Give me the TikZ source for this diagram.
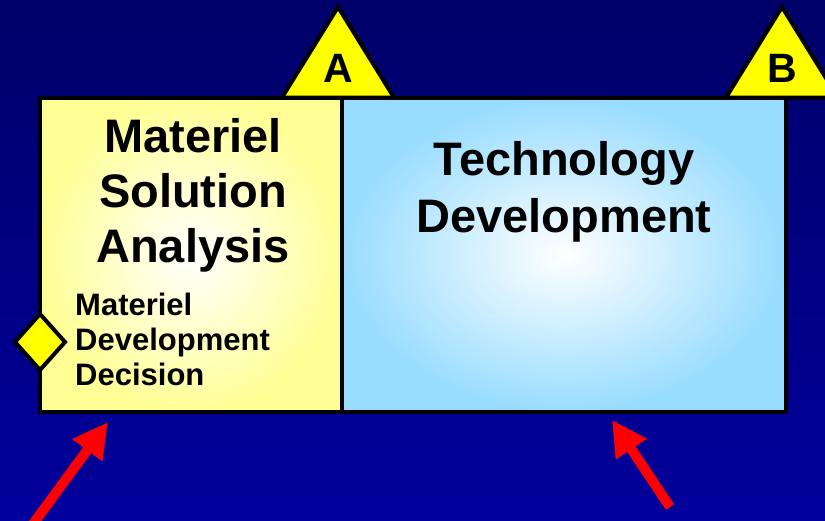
\documentclass[tikz,border=0pt]{standalone}
\usepackage{fontspec}
\setmainfont{Liberation Sans}
\usetikzlibrary{arrows.meta}

\definecolor{navytop}{RGB}{0,0,104}
\definecolor{navybot}{RGB}{0,0,156}
\definecolor{paleyellow}{RGB}{255,255,150}
\definecolor{paleblue}{RGB}{152,220,255}
\definecolor{gateyellow}{RGB}{255,255,0}
\definecolor{arrowred}{RGB}{255,0,0}

\tikzset{
  phasebox/.style={draw=black, line width=4pt, rectangle, inner sep=0pt},
  gate/.style={fill=gateyellow, draw=black, line width=4pt, line join=miter},
  gatelabel/.style={font=\bfseries\fontsize{41}{41}\selectfont, inner sep=0pt, anchor=base},
  bigtitle/.style={font=\bfseries\fontsize{47}{55}\selectfont, align=center, inner sep=0pt, anchor=base},
  smalltext/.style={font=\bfseries\fontsize{31}{35}\selectfont, align=left, inner sep=0pt, anchor=base west},
  pointer/.style={draw=arrowred, line width=10pt, -{Triangle[width=35pt,length=35pt]}}
}

\begin{document}
\begin{tikzpicture}[x=1pt, y=-1pt]
  % page frame and background
  \clip (0,0) rectangle (825,520);
  \shade[top color=navytop, bottom color=navybot] (0,0) rectangle (825,520);

  % milestone triangles behind the phase boxes
  \draw[gate] (282,97.5) -- (338,7) -- (394,97.5) -- cycle;
  \node[gatelabel] (msA) at (338,82) {A};
  \draw[gate] (726,97.5) -- (782,7) -- (838,97.5) -- cycle;
  \node[gatelabel] (msB) at (782,82) {B};

  % phase boxes
  \node[phasebox, inner color=white, outer color=paleyellow,
        minimum width=302pt, minimum height=314.5pt] (msa) at (191,254.75) {};
  \node[phasebox, inner color=white, outer color=paleblue,
        minimum width=444pt, minimum height=314.5pt] (td) at (564,254.75) {};

  % phase titles (anchored at the baseline of the last line)
  \node[bigtitle] (msatitle) at (193,262) {Materiel\\Solution\\Analysis};
  \node[bigtitle, font=\bfseries\fontsize{47}{57}\selectfont] (tdtitle) at (564,232) {Technology\\Development};

  % decision point
  \node[smalltext] (mdd) at (75,385) {Materiel\\Development\\Decision};
  \draw[gate] (15,342) -- (40,314) -- (65,342) -- (40,370) -- cycle;

  % pointers to the phases
  \coordinate (tailL) at (33,524);
  \coordinate (tipL) at (108,422);
  \coordinate (tailR) at (670,507);
  \coordinate (tipR) at (612,420);
  \draw[pointer] (tailL) -- (tipL);
  \draw[pointer] (tailR) -- (tipR);
\end{tikzpicture}
\end{document}
